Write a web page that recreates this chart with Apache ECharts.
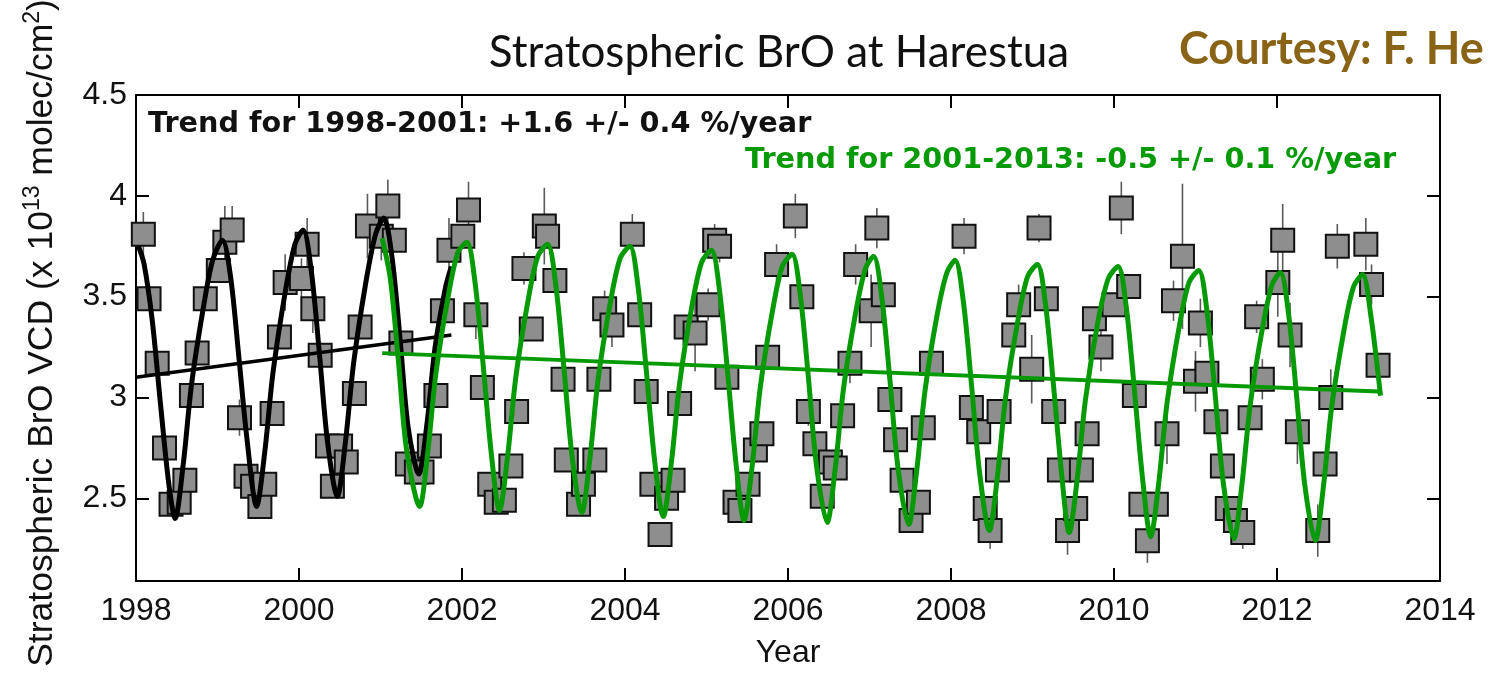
<!DOCTYPE html>
<html><head><meta charset="utf-8">
<script src="https://cdn.jsdelivr.net/npm/echarts@6.0.0/dist/echarts.min.js"></script>
<style>html,body{margin:0;padding:0;background:#fff;overflow:hidden}#c{width:1488px;height:677px}</style>
</head><body><div id="c"></div>
<script>
// ---- Data ----
const obsYear = [1998.09,1998.16,1998.26,1998.35,1998.43,1998.53,1998.60,1998.68,1998.75,1998.85,
1999.01,1999.09,1999.18,1999.27,1999.35,1999.43,1999.52,1999.58,1999.67,1999.76,1999.83,
2000.03,2000.10,2000.17,2000.26,2000.35,2000.41,2000.51,2000.58,2000.68,2000.75,2000.84,
2001.01,2001.09,2001.17,2001.25,2001.33,2001.44,2001.51,2001.60,2001.68,2001.76,2001.84,
2002.01,2002.08,2002.17,2002.25,2002.34,2002.42,2002.52,2002.60,2002.67,2002.76,2002.85,
2003.01,2003.05,2003.14,2003.24,2003.28,2003.43,2003.49,2003.63,2003.68,2003.75,2003.84,
2004.09,2004.18,2004.26,2004.33,2004.43,2004.51,2004.59,2004.67,2004.75,2004.86,
2005.02,2005.10,2005.16,2005.25,2005.35,2005.41,2005.51,2005.60,2005.68,2005.75,2005.86,
2006.09,2006.17,2006.25,2006.33,2006.42,2006.52,2006.58,2006.67,2006.76,2006.83,
2007.02,2007.09,2007.17,2007.25,2007.32,2007.40,2007.51,2007.60,2007.66,2007.76,
2008.16,2008.25,2008.34,2008.42,2008.48,2008.57,2008.59,2008.77,2008.83,2008.99,
2009.08,2009.17,2009.26,2009.33,2009.43,2009.53,2009.60,2009.67,2009.76,2009.84,
2010.00,2010.09,2010.18,2010.25,2010.33,2010.41,2010.52,2010.65,2010.73,2010.84,
2011.00,2011.06,2011.14,2011.25,2011.33,2011.39,2011.49,2011.58,2011.67,2011.75,2011.82,
2012.01,2012.07,2012.16,2012.25,2012.50,2012.59,2012.66,2012.74,
2013.09,2013.16,2013.24];
const obsValue = [3.81,3.49,3.17,2.75,2.47,2.48,2.59,3.01,3.22,3.49,
3.63,3.77,3.83,2.90,2.61,2.56,2.46,2.57,2.92,3.30,3.57,
3.59,3.76,3.44,3.21,2.76,2.56,2.76,2.68,3.02,3.35,3.85,
3.80,3.95,3.78,3.27,2.67,2.63,2.63,2.76,3.01,3.43,3.73,
3.80,3.93,3.41,3.05,2.57,2.48,2.49,2.66,2.93,3.64,3.34,
3.85,3.80,3.58,3.09,2.69,2.47,2.57,2.69,3.09,3.44,3.36,
3.81,3.41,3.03,2.57,2.32,2.50,2.59,2.97,3.35,3.32,
3.46,3.78,3.75,3.10,2.48,2.44,2.57,2.74,2.82,3.20,3.66,
3.90,3.50,2.93,2.77,2.51,2.68,2.65,2.91,3.17,3.66,
3.43,3.84,3.51,2.99,2.79,2.59,2.39,2.48,2.85,3.17,
3.80,2.95,2.83,2.45,2.34,2.64,2.93,3.31,3.46,3.14,
3.84,3.49,2.93,2.64,2.34,2.45,2.64,2.82,3.39,3.25,
3.46,3.94,3.55,3.01,2.47,2.29,2.47,2.82,3.48,3.70,
3.08,3.37,3.12,2.88,2.66,2.45,2.39,2.33,2.90,3.40,3.09,
3.57,3.78,3.31,2.83,2.34,2.67,3.00,3.75,
3.76,3.56,3.16];
const obsError = [0.11,0.04,0.04,0.04,0.04,0.04,0.04,0.04,0.04,0.04,
0.05,0.18,0.12,0.09,0.04,0.04,0.04,0.04,0.04,0.04,0.14,
0.10,0.13,0.12,0.04,0.04,0.05,0.04,0.04,0.04,0.04,0.16,
0.12,0.13,0.04,0.04,0.04,0.04,0.04,0.04,0.04,0.04,0.16,
0.04,0.14,0.12,0.04,0.04,0.05,0.05,0.04,0.04,0.08,0.04,
0.19,0.04,0.04,0.04,0.05,0.04,0.04,0.05,0.04,0.09,0.11,
0.10,0.04,0.04,0.04,0.04,0.04,0.05,0.04,0.04,0.19,
0.08,0.08,0.08,0.04,0.04,0.04,0.04,0.04,0.04,0.04,0.10,
0.11,0.04,0.07,0.04,0.04,0.04,0.04,0.04,0.10,0.10,
0.18,0.10,0.04,0.04,0.04,0.04,0.04,0.04,0.04,0.04,
0.09,0.04,0.04,0.04,0.09,0.04,0.04,0.04,0.10,0.17,
0.07,0.04,0.04,0.04,0.12,0.04,0.04,0.04,0.04,0.12,
0.04,0.13,0.04,0.04,0.04,0.11,0.04,0.15,0.10,0.36,
0.15,0.12,0.04,0.04,0.04,0.04,0.04,0.08,0.04,0.08,0.10,
0.17,0.18,0.16,0.16,0.13,0.04,0.14,0.11,
0.13,0.10,0.04];

const blackFit = [[1998.03,3.75],[1998.10,3.66],[1998.20,3.38],[1998.30,2.97],[1998.40,2.58],[1998.48,2.40],
[1998.58,2.67],[1998.68,3.06],[1998.82,3.43],[1998.94,3.68],[1999.06,3.78],
[1999.16,3.60],[1999.26,3.21],[1999.36,2.80],[1999.48,2.46],
[1999.58,2.73],[1999.68,3.12],[1999.83,3.52],[1999.95,3.76],[2000.05,3.83],
[2000.15,3.63],[2000.25,3.22],[2000.35,2.78],[2000.47,2.51],
[2000.57,2.78],[2000.67,3.17],[2000.82,3.57],[2000.94,3.81],[2001.04,3.89],
[2001.14,3.70],[2001.24,3.29],[2001.34,2.85],[2001.47,2.62],
[2001.57,2.87],[2001.67,3.25],[2001.80,3.55],[2001.87,3.65]];
const blackTrend = [[1998.00,3.10],[2001.87,3.31]];

const greenFit = [[2001.02,3.79],[2001.12,3.59],[2001.22,3.18],[2001.32,2.74],[2001.48,2.46],
[2001.58,2.73],[2001.68,3.12],[2001.83,3.50],[2001.95,3.72],[2002.06,3.77],
[2002.16,3.57],[2002.26,3.16],[2002.36,2.72],[2002.46,2.44],
[2002.56,2.71],[2002.66,3.10],[2002.81,3.48],[2002.93,3.70],[2003.05,3.76],
[2003.15,3.56],[2003.25,3.15],[2003.35,2.71],[2003.47,2.43],
[2003.57,2.70],[2003.67,3.09],[2003.82,3.47],[2003.94,3.69],[2004.06,3.75],
[2004.16,3.55],[2004.26,3.14],[2004.36,2.70],[2004.47,2.41],
[2004.57,2.68],[2004.67,3.07],[2004.82,3.45],[2004.94,3.67],[2005.06,3.73],
[2005.16,3.53],[2005.26,3.12],[2005.36,2.68],[2005.46,2.39],
[2005.56,2.66],[2005.66,3.05],[2005.81,3.43],[2005.93,3.65],[2006.05,3.71],
[2006.15,3.51],[2006.25,3.10],[2006.35,2.66],[2006.48,2.38],
[2006.58,2.65],[2006.68,3.04],[2006.83,3.42],[2006.95,3.64],[2007.05,3.70],
[2007.15,3.50],[2007.25,3.09],[2007.35,2.65],[2007.48,2.37],
[2007.58,2.64],[2007.68,3.03],[2007.83,3.41],[2007.95,3.62],[2008.05,3.68],
[2008.15,3.48],[2008.25,3.07],[2008.35,2.63],[2008.47,2.34],
[2008.57,2.61],[2008.67,3.00],[2008.82,3.38],[2008.94,3.60],[2009.06,3.66],
[2009.16,3.46],[2009.26,3.05],[2009.36,2.61],[2009.45,2.33],
[2009.55,2.60],[2009.65,2.99],[2009.80,3.37],[2009.93,3.59],[2010.05,3.65],
[2010.15,3.45],[2010.25,3.04],[2010.35,2.60],[2010.45,2.31],
[2010.55,2.58],[2010.65,2.97],[2010.80,3.35],[2010.92,3.57],[2011.04,3.63],
[2011.14,3.43],[2011.24,3.02],[2011.34,2.58],[2011.47,2.30],
[2011.57,2.57],[2011.67,2.96],[2011.82,3.34],[2011.94,3.56],[2012.04,3.62],
[2012.14,3.42],[2012.24,3.01],[2012.34,2.57],[2012.47,2.29],
[2012.57,2.56],[2012.67,2.95],[2012.82,3.33],[2012.94,3.55],[2013.05,3.61],
[2013.15,3.41],[2013.27,3.01]];
const greenTrend = [[2001.02,3.22],[2013.25,3.03],[2013.27,3.01]];

const yTickValues = [2.5, 3, 3.5, 4, 4.5];
const titleText = 'Stratospheric BrO at Harestua';
const courtesyText = 'Courtesy: F. He';
const trendText1 = 'Trend for 1998-2001: +1.6 +/- 0.4 %/year';
const trendText2 = 'Trend for 2001-2013: -0.5 +/- 0.1 %/year';
const xAxisName = 'Year';

// ---- Chart ----
const GREEN = '#079a07';
const chart = echarts.init(document.getElementById('c'), null, {renderer: 'canvas'});
const obsPoints = obsYear.map((x, i) => [x, obsValue[i], obsError[i]]);
const axisLine = {show: true, lineStyle: {color: '#000', width: 2}};
const FONT = '"Liberation Sans", Arial, sans-serif';

chart.setOption({
  animation: false,
  backgroundColor: '#fff',
  grid: {left: 136, right: 48, top: 95, bottom: 96, containLabel: false},
  xAxis: [{
    type: 'value', min: 1998, max: 2014, interval: 2, position: 'bottom',
    axisLine, splitLine: {show: false},
    axisTick: {inside: true, length: 13, lineStyle: {color: '#000', width: 2}},
    axisLabel: {fontSize: 32, color: '#111', fontFamily: FONT, margin: 14, formatter: v => String(v)},
    name: xAxisName, nameLocation: 'middle', nameGap: 56,
    nameTextStyle: {fontSize: 32, color: '#111', fontFamily: FONT}
  }, {
    type: 'value', min: 1998, max: 2014, interval: 2, position: 'top',
    axisLine, splitLine: {show: false},
    axisTick: {inside: true, length: 13, lineStyle: {color: '#000', width: 2}},
    axisLabel: {show: false}
  }],
  yAxis: [{
    type: 'value', min: 2.09, max: 4.5, position: 'left',
    axisLine, splitLine: {show: false},
    axisTick: {inside: true, length: 13, customValues: yTickValues, lineStyle: {color: '#000', width: 2}},
    axisLabel: {fontSize: 32, color: '#111', fontFamily: FONT, margin: 9, customValues: yTickValues}
  }, {
    type: 'value', min: 2.09, max: 4.5, position: 'right',
    axisLine, splitLine: {show: false},
    axisTick: {inside: true, length: 13, customValues: yTickValues, lineStyle: {color: '#000', width: 2}},
    axisLabel: {show: false}
  }],
  graphic: [
    {type: 'text', x: 779, y: 53, style: {text: titleText, font: '400 44px Lato, "Open Sans", sans-serif', fill: '#111', align: 'center', verticalAlign: 'middle'}},
    {type: 'text', x: 1179, y: 49, style: {text: courtesyText, font: '700 45px Lato, "Open Sans", sans-serif', fill: '#8a6416', align: 'left', verticalAlign: 'middle'}},
    {type: 'text', x: 148, y: 125, z: 10, style: {text: trendText1, font: '700 28.7px "DejaVu Sans", Verdana, sans-serif', fill: '#111', align: 'left', verticalAlign: 'middle'}},
    {type: 'text', x: 745, y: 161, z: 10, style: {text: trendText2, font: '700 28.7px "DejaVu Sans", Verdana, sans-serif', fill: GREEN, align: 'left', verticalAlign: 'middle'}},
    {type: 'text', x: 42, y: 333, rotation: Math.PI / 2,
      style: {
        text: 'Stratospheric BrO VCD (x 10{sup|13} molec/cm{sup|2})',
        font: '400 35.5px "Liberation Sans", Arial, sans-serif', fill: '#111',
        align: 'center', verticalAlign: 'middle', lineHeight: 42,
        rich: {sup: {fontSize: 23, fontFamily: '"Liberation Sans", Arial, sans-serif', fill: '#111', verticalAlign: 'top', lineHeight: 42, padding: [0, 0, 14, 0]}}
      }}
  ],
  series: [
    {
      type: 'custom', name: 'err', z: 1, xAxisIndex: 0, yAxisIndex: 0,
      data: obsPoints,
      renderItem: function (params, api) {
        const x = api.value(0), y = api.value(1), e = api.value(2);
        const p1 = api.coord([x, y - e]);
        const p2 = api.coord([x, y + e]);
        return {type: 'line', shape: {x1: p1[0], y1: p1[1], x2: p2[0], y2: p2[1]},
          style: {stroke: '#5a5a5a', lineWidth: 1.6}};
      }
    },
    {
      type: 'scatter', name: 'obs', z: 2, data: obsPoints.map(p => [p[0], p[1]]),
      symbol: 'rect', symbolSize: 23,
      itemStyle: {color: '#8e8e8e', borderColor: '#111', borderWidth: 2, opacity: 1}
    },
    {type: 'line', name: 'blackTrend', z: 3, data: blackTrend, showSymbol: false, symbol: 'none',
      lineStyle: {color: '#000', width: 3.5}},
    {type: 'line', name: 'blackFit', z: 3, data: blackFit, showSymbol: false, symbol: 'none', smooth: 0.3,
      lineStyle: {color: '#000', width: 5}},
    {type: 'line', name: 'greenTrend', z: 4, data: greenTrend, showSymbol: false, symbol: 'none',
      lineStyle: {color: GREEN, width: 4}},
    {type: 'line', name: 'greenFit', z: 4, data: greenFit, showSymbol: false, symbol: 'none', smooth: 0.3,
      lineStyle: {color: GREEN, width: 5}}
  ]
});
</script>
</body></html>
